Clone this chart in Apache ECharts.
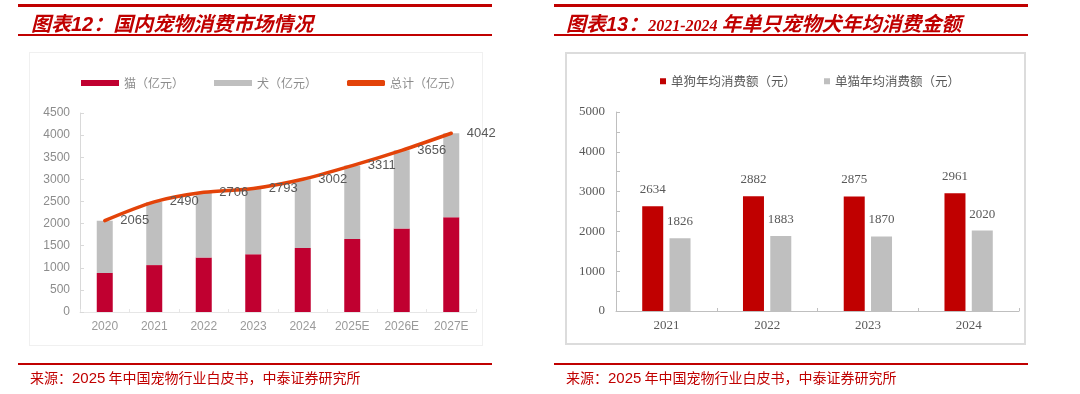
<!DOCTYPE html>
<html>
<head>
<meta charset="utf-8">
<script src="https://cdn.jsdelivr.net/npm/echarts@6/dist/echarts.min.js"></script>
<style>
html,body{margin:0;padding:0;background:#fff;}
#wrap{position:relative;width:1080px;height:394px;overflow:hidden;background:#fff;}
#chart{position:absolute;left:0;top:0;width:1080px;height:394px;}
.bar{position:absolute;background:#c00000;}
.box{position:absolute;box-sizing:border-box;}
.title{position:absolute;top:9px;height:28px;line-height:28px;color:#c00000;font-family:"Noto Sans CJK SC",sans-serif;font-weight:bold;font-style:italic;font-size:20px;white-space:nowrap;}
.title .num{font-family:"Liberation Sans",Arial,sans-serif;}
.title .yr{font-family:"Liberation Serif",serif;font-size:16px;}
.src{position:absolute;top:367px;height:20px;line-height:20px;color:#c00000;font-family:"Noto Sans CJK SC",sans-serif;font-size:14px;white-space:nowrap;}
.src .n{font-family:"Liberation Sans",Arial,sans-serif;font-size:15px;}
</style>
</head>
<body>
<div id="wrap">
  <div class="box" style="left:29px;top:52px;width:454px;height:294px;border:1px solid #f0f0f0;"></div>
  <div class="box" style="left:565px;top:52px;width:461px;height:293px;border:2px solid #dcdcdc;"></div>
  <div id="chart"></div>
  <div class="bar" style="left:18px;top:4px;width:474px;height:3px;"></div>
  <div class="bar" style="left:18px;top:34px;width:474px;height:2px;"></div>
  <div class="bar" style="left:554px;top:4px;width:474px;height:3px;"></div>
  <div class="bar" style="left:554px;top:34px;width:474px;height:2px;"></div>
  <div class="bar" style="left:18px;top:363px;width:474px;height:2px;"></div>
  <div class="bar" style="left:554px;top:363px;width:474px;height:2px;"></div>
  <div class="title" style="left:31px;">图表<span class="num">12</span>：国内宠物消费市场情况</div>
  <div class="title" style="left:566px;">图表<span class="num">13</span>：<span class="yr">2021-2024 </span>年单只宠物犬年均消费金额</div>
  <div class="src" style="left:30px;">来源：<span class="n">2025</span> 年中国宠物行业白皮书，中泰证券研究所</div>
  <div class="src" style="left:566px;">来源：<span class="n">2025</span> 年中国宠物行业白皮书，中泰证券研究所</div>
</div>
<script>
// Left chart data
var marketYears = ['2020', '2021', '2022', '2023', '2024', '2025E', '2026E', '2027E'];
var catMarket = [884, 1060, 1231, 1305, 1445, 1650, 1890, 2142];
var dogMarket = [1181, 1430, 1475, 1488, 1557, 1661, 1766, 1900];
var totalMarket = [2065, 2490, 2706, 2793, 3002, 3311, 3656, 4042];
var marketTicks = [0, 4500, 500];

// Right chart data
var spendYears = ['2021', '2022', '2023', '2024'];
var dogSpend = [2634, 2882, 2875, 2961];
var catSpend = [1826, 1883, 1870, 2020];
var spendTicks = [0, 5000, 1000];

var sans = '"Liberation Sans", Arial, "Noto Sans CJK SC", sans-serif';
var serif = '"Liberation Serif", "Noto Sans CJK SC", serif';
var plain = function (v) { return String(v); };

var chart = echarts.init(document.getElementById('chart'), null, {renderer: 'canvas'});
chart.setOption({
  animation: false,
  backgroundColor: 'transparent',
  legend: [
    {
      left: 76, top: 72, itemWidth: 38, itemHeight: 6, itemGap: 30,
      textStyle: {color: '#8c8c8c', fontSize: 12, fontFamily: '"Noto Sans CJK SC", sans-serif'},
      data: [
        {name: '猫（亿元）', icon: 'rect'},
        {name: '犬（亿元）', icon: 'rect'},
        {name: '总计（亿元）', icon: 'roundRect', itemStyle: {color: '#e34309', opacity: 1}}
      ]
    },
    {
      left: 655, top: 70, itemWidth: 6, itemHeight: 6, itemGap: 28,
      textStyle: {color: '#595959', fontSize: 12.5, fontFamily: '"Noto Sans CJK SC", serif'},
      data: [
        {name: '单狗年均消费额（元）', icon: 'rect'},
        {name: '单猫年均消费额（元）', icon: 'rect'}
      ]
    }
  ],
  grid: [
    {left: 80, top: 113, width: 396, height: 199},
    {left: 616, top: 112, width: 403, height: 199}
  ],
  xAxis: [
    {
      type: 'category', gridIndex: 0, data: marketYears,
      axisLine: {lineStyle: {color: '#e6e6e6'}},
      axisTick: {show: true, inside: true, length: 3, lineStyle: {color: '#e6e6e6'}},
      axisLabel: {color: '#9a9a9a', fontSize: 12, fontFamily: sans, margin: 9}
    },
    {
      type: 'category', gridIndex: 1, data: spendYears,
      axisLine: {lineStyle: {color: '#bfbfbf'}},
      axisTick: {show: true, inside: true, length: 3, lineStyle: {color: '#bfbfbf'}},
      axisLabel: {color: '#595959', fontSize: 13, fontFamily: serif, margin: 8}
    }
  ],
  yAxis: [
    {
      type: 'value', gridIndex: 0, min: marketTicks[0], max: marketTicks[1], interval: marketTicks[2],
      axisLine: {show: true, lineStyle: {color: '#d9d9d9'}},
      axisTick: {show: true, inside: true, length: 4, lineStyle: {color: '#d9d9d9'}},
      splitLine: {show: false},
      axisLabel: {color: '#8c8c8c', fontSize: 12, fontFamily: sans, margin: 10, formatter: plain}
    },
    {
      type: 'value', gridIndex: 1, min: spendTicks[0], max: spendTicks[1], interval: spendTicks[2],
      axisLine: {show: true, lineStyle: {color: '#bfbfbf'}},
      axisTick: {show: true, inside: true, length: 4, lineStyle: {color: '#bfbfbf'}},
      minorTick: {show: true, splitNumber: 2, length: 4, lineStyle: {color: '#bfbfbf'}},
      splitLine: {show: false},
      axisLabel: {color: '#595959', fontSize: 13, fontFamily: serif, margin: 11, formatter: plain}
    }
  ],
  series: [
    {
      name: '猫（亿元）', type: 'bar', stack: 'm', xAxisIndex: 0, yAxisIndex: 0,
      data: catMarket, barWidth: 16, itemStyle: {color: '#c00030'}
    },
    {
      name: '犬（亿元）', type: 'bar', stack: 'm', xAxisIndex: 0, yAxisIndex: 0,
      data: dogMarket, barWidth: 16, itemStyle: {color: '#bfbfbf'}
    },
    {
      name: '总计（亿元）', type: 'line', xAxisIndex: 0, yAxisIndex: 0,
      data: totalMarket, smooth: 0.3, symbol: 'circle', symbolSize: 1, showSymbol: true, z: 5,
      lineStyle: {color: '#e34309', width: 3.5, cap: 'round'},
      itemStyle: {color: '#e34309', opacity: 0},
      labelLayout: {hideOverlap: false},
      label: {show: true, position: 'right', distance: 15, color: '#595959', fontSize: 13, fontFamily: sans, opacity: 1}
    },
    {
      name: '单狗年均消费额（元）', type: 'bar', xAxisIndex: 1, yAxisIndex: 1,
      data: dogSpend, barWidth: 21, barGap: '30%', itemStyle: {color: '#c00000'},
      label: {show: true, position: 'top', distance: 10, color: '#595959', fontSize: 13, fontFamily: serif}
    },
    {
      name: '单猫年均消费额（元）', type: 'bar', xAxisIndex: 1, yAxisIndex: 1,
      data: catSpend, barWidth: 21, barGap: '30%', itemStyle: {color: '#bfbfbf'},
      label: {show: true, position: 'top', distance: 10, color: '#595959', fontSize: 13, fontFamily: serif}
    }
  ]
});
</script>
</body>
</html>
